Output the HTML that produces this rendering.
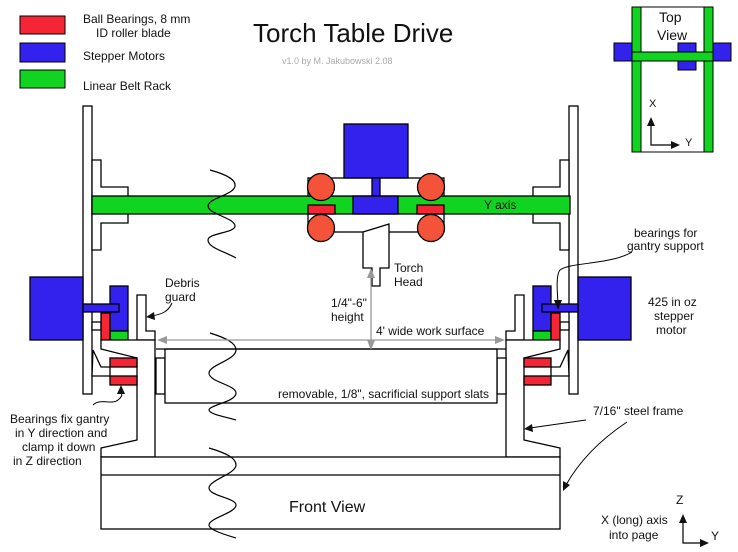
<!DOCTYPE html>
<html><head><meta charset="utf-8"><style>
html,body{margin:0;padding:0;background:#fff}
svg{display:block}
text{font-family:"Liberation Sans",sans-serif;fill:#111}
</style></head><body>
<svg width="738" height="552" viewBox="0 0 738 552" xmlns="http://www.w3.org/2000/svg">
<g stroke="#000" stroke-width="1.3">
 <rect x="83" y="106" width="9" height="288" fill="#fff"/>
 <path d="M92,160 H101 V187 H128 V223 H101 V250 H92 Z" fill="#fff"/>
 <rect x="30" y="277" width="53" height="63" fill="#3322ee"/>
 <rect x="110" y="286" width="18" height="45" fill="#3322ee"/>
 <rect x="110" y="331" width="18" height="9" fill="#11d420"/>
 <rect x="92" y="322" width="9" height="8" fill="#fff"/>
 <rect x="101" y="313" width="9" height="27" fill="#f42636"/>
 <rect x="83" y="304" width="36" height="8" fill="#3322ee"/>
 <path d="M93,350 L101,367 H110 V376 H92 Z" fill="#fff"/>
 <path d="M137,295 H146 V331 H155 V340 H137 Z" fill="#fff"/>
 <path d="M101,340 H155 V457 H101 V448 L137,440 V358 L101,349 Z" fill="#fff"/>
 <rect x="110" y="358" width="27" height="9" fill="#f42636"/>
 <rect x="110" y="376" width="27" height="9" fill="#f42636"/>
</g>
<g stroke="#000" stroke-width="1.3" transform="translate(661,0) scale(-1,1)">
 <rect x="83" y="106" width="9" height="288" fill="#fff"/>
 <path d="M92,160 H101 V187 H128 V223 H101 V250 H92 Z" fill="#fff"/>
 <rect x="30" y="277" width="53" height="63" fill="#3322ee"/>
 <rect x="110" y="286" width="18" height="45" fill="#3322ee"/>
 <rect x="110" y="331" width="18" height="9" fill="#11d420"/>
 <rect x="92" y="322" width="9" height="8" fill="#fff"/>
 <rect x="101" y="313" width="9" height="27" fill="#f42636"/>
 <rect x="83" y="304" width="36" height="8" fill="#3322ee"/>
 <path d="M93,350 L101,367 H110 V376 H92 Z" fill="#fff"/>
 <path d="M137,295 H146 V331 H155 V340 H137 Z" fill="#fff"/>
 <path d="M101,340 H155 V457 H101 V448 L137,440 V358 L101,349 Z" fill="#fff"/>
 <rect x="110" y="358" width="27" height="9" fill="#f42636"/>
 <rect x="110" y="376" width="27" height="9" fill="#f42636"/>
</g>
<rect x="92" y="196" width="478" height="18" fill="#11d420" stroke="#000" stroke-width="1.3"/>
<g stroke="#000" stroke-width="1.3" fill="#fff">
 <rect x="101" y="457" width="459" height="72"/>
 <line x1="101" y1="475" x2="560" y2="475"/>
 <rect x="156" y="358" width="9" height="36"/>
 <rect x="497" y="358" width="9" height="36"/>
 <rect x="165" y="349" width="332" height="54"/>
 <line x1="156" y1="349" x2="506" y2="349"/>
</g>
<g stroke="#000" stroke-width="1.3">
 <rect x="308" y="178" width="136" height="18" fill="#fff"/>
 <rect x="308" y="214" width="136" height="18" fill="#fff"/>
 <rect x="344" y="124" width="64" height="54" fill="#3322ee"/>
 <rect x="372" y="178" width="8" height="18" fill="#3322ee"/>
 <rect x="353" y="196" width="45" height="18" fill="#3322ee"/>
 <rect x="308" y="205" width="27" height="9" fill="#f42636"/>
 <rect x="417" y="205" width="27" height="9" fill="#f42636"/>
 <circle cx="321" cy="187" r="13.5" fill="#f5523a"/><circle cx="431" cy="187" r="13.5" fill="#f5523a"/><circle cx="321" cy="228" r="13.5" fill="#f5523a"/><circle cx="431" cy="228" r="13.5" fill="#f5523a"/>
 <path d="M363,232 L389,224 V268 H380 V286 H372 V268 H363 Z" fill="#fff"/>
</g>
<g fill="none" stroke="#000" stroke-width="1.2">
 <path d="M210,170 C228,175 236,180 235,186 C234,195 208,198 208,206 C208,214 235,218 235,226 C235,233 208,233 208,240 C208,248 226,252 236,258"/>
 <path d="M210,333 C226,338 236,343 236,350 C236,360 209,365 209,373 C209,382 236,385 236,393 C236,402 209,405 209,410 C209,414 226,417 236,420"/>
 <path d="M209,448 C226,453 236,458 236,465 C236,474 209,480 209,488 C209,496 236,498 236,505 C236,513 209,518 209,525 C209,530 226,535 236,538"/>
</g>
<g stroke="#999" stroke-width="1.3">
 <line x1="160" y1="340" x2="502" y2="340"/>
 <line x1="371" y1="272" x2="371" y2="348"/>
</g>
<g fill="#999">
 <path d="M157,340 L167,336 L167,344 Z"/>
 <path d="M505,340 L495,336 L495,344 Z"/>
 <path d="M371,268 L367,278 L375,278 Z"/>
 <path d="M371,350 L367,340 L375,340 Z"/>
</g>
<g stroke="#000" stroke-width="1">
 <rect x="20" y="16" width="45" height="18" fill="#f42636"/>
 <rect x="20" y="43" width="45" height="19" fill="#3322ee"/>
 <rect x="20" y="70" width="45" height="18" fill="#11d420"/>
</g>
<g font-size="12">
 <text x="83" y="23">Ball Bearings, 8 mm</text>
 <text x="96" y="37">ID roller blade</text>
 <text x="83" y="60">Stepper Motors</text>
 <text x="83" y="90">Linear Belt Rack</text>
</g>
<text x="253" y="42" font-size="26">Torch Table Drive</text>
<text x="282" y="64" font-size="9" style="fill:#aaa">v1.0  by M. Jakubowski 2.08</text>
<g stroke="#000" stroke-width="1">
 <rect x="632" y="7" width="81" height="145" fill="#fff"/>
 <rect x="614" y="43" width="18" height="18" fill="#3322ee"/>
 <rect x="713" y="43" width="18" height="18" fill="#3322ee"/>
 <rect x="678" y="43" width="18" height="27" fill="#3322ee"/>
 <rect x="632" y="7" width="9" height="145" fill="#11d420"/>
 <rect x="704" y="7" width="9" height="145" fill="#11d420"/>
 <rect x="632" y="52" width="81" height="9" fill="#11d420"/>
</g>
<text x="659" y="22" font-size="14">Top</text>
<text x="657" y="40" font-size="14">View</text>
<g stroke="#000" stroke-width="1.2" fill="none">
 <path d="M651,124 V145 H673"/>
 <path d="M683,521 V543 H702"/>
</g>
<g fill="#111">
 <path d="M651,117 L647,126 L655,126 Z"/><path d="M680,145 L671,141 L671,149 Z"/>
 <path d="M683,514 L679,523 L687,523 Z"/><path d="M709,543 L700,539 L700,547 Z"/>
</g>
<text x="649" y="107" font-size="11">X</text>
<text x="685" y="146" font-size="11">Y</text>
<text x="676" y="504" font-size="12">Z</text>
<text x="711" y="540" font-size="12">Y</text>
<text x="601" y="524" font-size="12">X (long) axis</text>
<text x="609" y="539" font-size="12">into page</text>
<g font-size="12">
 <text x="484" y="209">Y axis</text>
 <text x="394" y="272">Torch</text>
 <text x="394" y="286">Head</text>
 <text x="331" y="307">1/4"-6"</text>
 <text x="331" y="321">height</text>
 <text x="376" y="335">4' wide work surface</text>
 <text x="278" y="398">removable, 1/8", sacrificial support slats</text>
 <text x="165" y="287">Debris</text>
 <text x="165" y="301">guard</text>
 <text x="634" y="237">bearings for</text>
 <text x="627" y="250">gantry support</text>
 <text x="648" y="306">425 in oz</text>
 <text x="654" y="320">stepper</text>
 <text x="656" y="334">motor</text>
 <text x="593" y="415">7/16" steel frame</text>
 <text x="289" y="512" font-size="16">Front View</text>
 <text x="10" y="423">Bearings fix gantry</text>
 <text x="15" y="437">in Y direction and</text>
 <text x="22" y="451">clamp it down</text>
 <text x="13" y="465">in Z direction</text>
</g>
<g stroke="#000" stroke-width="1" fill="none">
 <path d="M172,303 C168,312 162,314 152,316"/>
 <path d="M93,405 C100,398 112,405 118,400 C123,396 122,394 121,392"/>
 <path d="M632,252 C610,265 570,262 560,270 C556,275 557,290 558,302"/>
 <path d="M586,420 L530,428"/>
 <path d="M627,422 C600,440 580,460 566,485"/>
</g>
<g fill="#111">
 <path d="M146,317 L154,312 L155,320 Z"/>
 <path d="M121,385 L117,394 L125,394 Z"/>
 <path d="M558,310 L554,300 L562,300 Z"/>
 <path d="M524,429 L532,424 L533,432 Z"/>
 <path d="M563,491 L563,481 L570,485 Z"/>
</g>
</svg>
</body></html>
